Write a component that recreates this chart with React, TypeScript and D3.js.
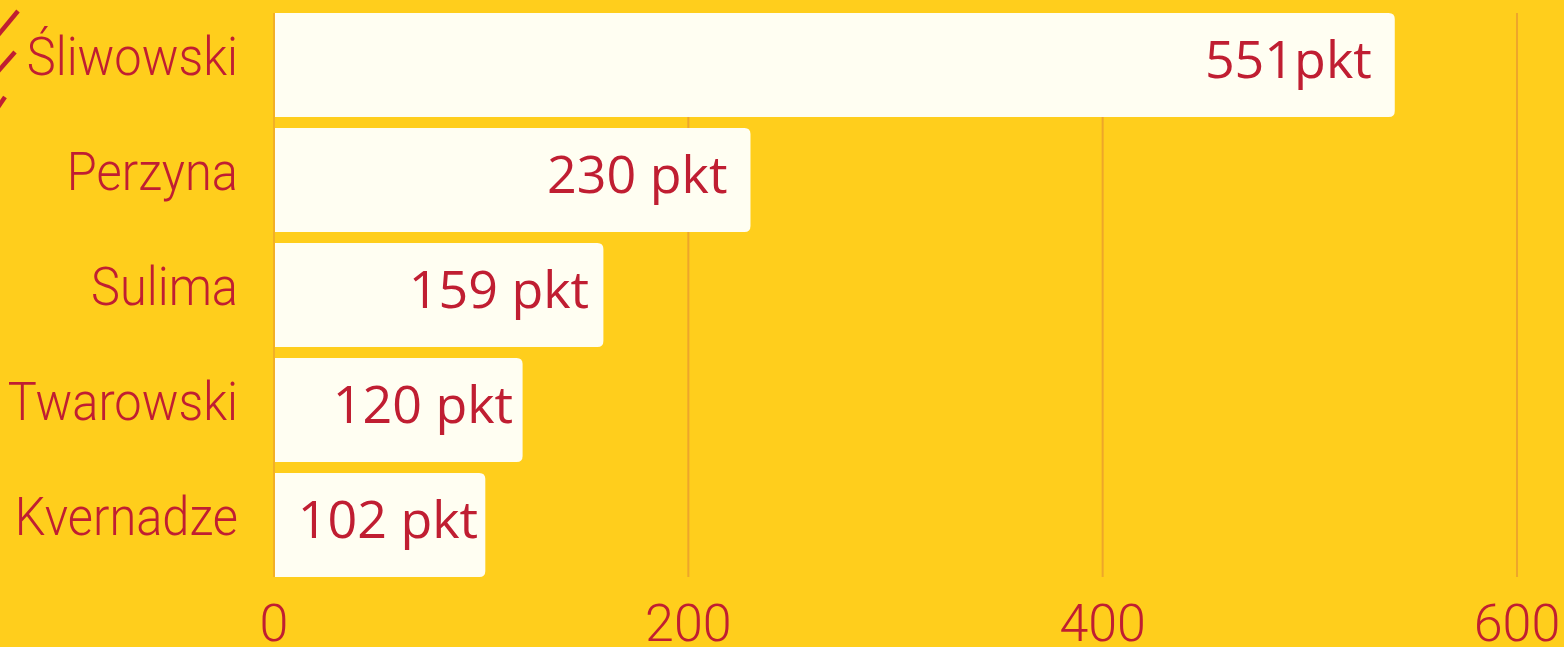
import React from 'react'
import * as d3 from 'd3'

const width = 1564
const height = 647

const names = ['Śliwowski', 'Perzyna', 'Sulima', 'Twarowski', 'Kvernadze']
const points = [541, 230, 159, 120, 102]
const valueLabels = ['551pkt', '230 pkt', '159 pkt', '120 pkt', '102 pkt']
const ticks = [0, 200, 400, 600]

const bg = '#FFCE1C'
const red = '#C01E32'
const barFill = '#FFFEF2'
const gridColor = '#EEA62A'

const margin = { left: 274, right: 47 }

function App() {
  const x = d3.scaleLinear()
    .domain([0, 600])
    .range([margin.left, width - margin.right])

  const y = d3.scaleBand<string>()
    .domain(names)
    .range([7.5, 582.5])
    .paddingInner(11 / 115)
    .paddingOuter(0.048)

  // short bars get their label pushed closer to the bar end
  const labelPad = d3.scaleLinear().domain([100, 230]).range([7, 23]).clamp(true)

  const r = 6
  const barPath = (v: number, name: string) => {
    const x0 = x(0) + 1
    const x1 = x(v)
    const y0 = y(name) as number
    const h = y.bandwidth()
    return `M${x0},${y0}H${x1 - r}Q${x1},${y0} ${x1},${y0 + r}V${y0 + h - r}Q${x1},${y0 + h} ${x1 - r},${y0 + h}H${x0}Z`
  }

  const top = y(names[0]) as number
  const bottom = (y(names[names.length - 1]) as number) + y.bandwidth()

  return (
    <svg width={width} height={height} style={{ position: 'absolute', left: 0, top: 0, display: 'block' }}>
      <rect width={width} height={height} fill={bg} />

      {/* cropped decoration at the left edge */}
      <g stroke={red} strokeWidth={4.5} strokeLinecap="butt">
        <line x1={18} y1={11} x2={-6} y2={40} />
        <line x1={15} y1={52} x2={-6} y2={76} />
        <line x1={5} y1={97} x2={-4} y2={110} />
      </g>

      {ticks.map(t => (
        <line key={t} x1={x(t)} x2={x(t)} y1={top} y2={bottom} stroke={gridColor} strokeWidth={t === 0 ? 1.5 : 2} />
      ))}

      {names.map((name, i) => {
        const cy = (y(name) as number) + y.bandwidth() / 2
        return (
          <g key={name}>
            <path d={barPath(points[i], name)} fill={barFill} />
            <text
              x={238}
              y={cy + 10}
              textAnchor="end"
              fill={red}
              fontFamily="Roboto, sans-serif"
              fontWeight={300}
              fontSize={53}
              transform={`translate(238,0) scale(0.92,1) translate(-238,0)`}
            >{name}</text>
            <text
              x={x(points[i]) - labelPad(points[i])}
              y={cy + 13}
              textAnchor="end"
              fill={red}
              fontFamily="'Open Sans', sans-serif"
              fontSize={52}
            >{valueLabels[i]}</text>
          </g>
        )
      })}

      {ticks.map(t => (
        <text
          key={t}
          x={x(t)}
          y={641}
          textAnchor="middle"
          fill={red}
          fontFamily="Roboto, sans-serif"
          fontWeight={300}
          fontSize={52}
        >{t}</text>
      ))}
    </svg>
  )
}

export default App
